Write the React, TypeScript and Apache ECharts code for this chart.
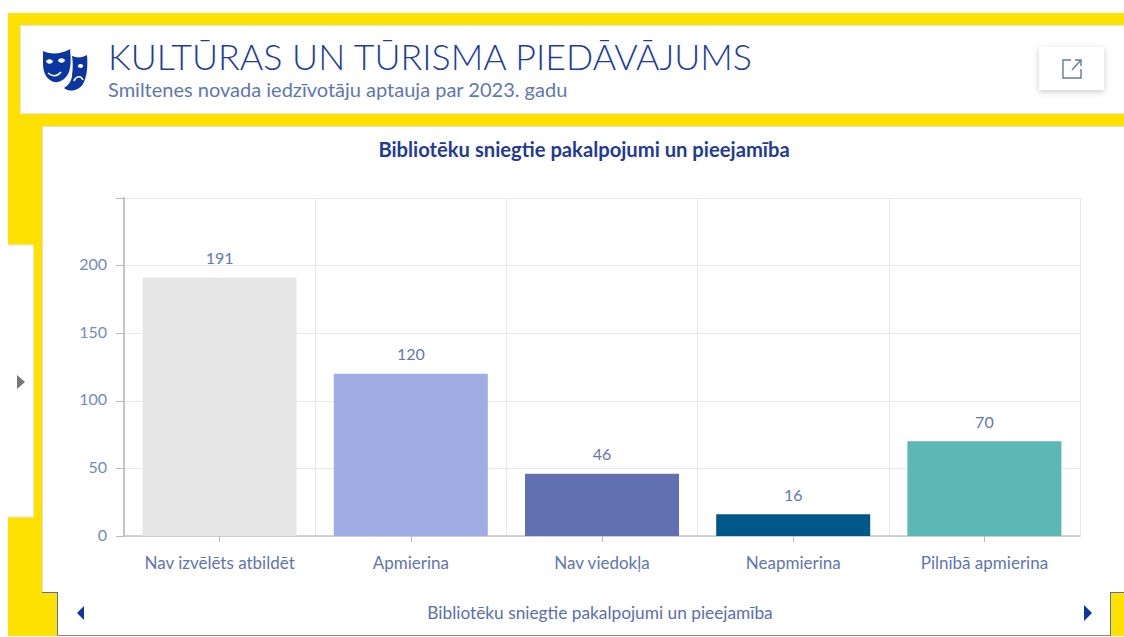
import React, { useEffect, useRef } from "react";
import * as echarts from "echarts";

const categories = ["Nav izvēlēts atbildēt", "Apmierina", "Nav viedokļa", "Neapmierina", "Pilnībā apmierina"];
const values = [191, 120, 46, 16, 70];
const barColors = ["#e6e6e6", "#9fade4", "#6170b0", "#00578a", "#5cb8b4"];
const heading = "KULTŪRAS UN TŪRISMA PIEDĀVĀJUMS";
const subheading = "Smiltenes novada iedzīvotāju aptauja par 2023. gadu";
const chartTitle = "Bibliotēku sniegtie pakalpojumi un pieejamība";
const footer = "Bibliotēku sniegtie pakalpojumi un pieejamība";

const FONT = "Lato";
const YELLOW = "#ffe100";
const BLUE = "#0b36a0";

echarts.graphic.registerShape("maskBig", echarts.graphic.extendPath(
  "M43 51 C50 55 62 54 70 49 C71 58 71 66 69 72 C66 79 60 83 54 82 C47 80 43 73 43 64 Z", {}));
echarts.graphic.registerShape("maskSmall", echarts.graphic.extendPath(
  "M72 56 C77 58 82 58 87 55 C88 66 87 77 83 84 C79 90 71 93 64 88 C69 85 72 80 72 75 C73 69 73 62 72 56 Z", {}));
echarts.graphic.registerShape("exportIcon", echarts.graphic.extendPath(
  "M1071 60 H1063 V78 H1081 V69 M1072 70 L1081 60 M1075 60 H1081 V66", {}));

const rect = (x: number, y: number, width: number, height: number, fill: string, extra: any = {}) => ({
  type: "rect", shape: { x, y, width, height }, style: { fill, ...extra }, silent: true,
});
const line = (x1: number, y1: number, x2: number, y2: number, stroke: string, lineWidth = 1) => ({
  type: "line", shape: { x1, y1, x2, y2 }, style: { stroke, lineWidth }, silent: true,
});
const tri = (points: number[][], fill: string) => ({
  type: "polygon", shape: { points }, style: { fill }, silent: true,
});
const label = (x: number, y: number, text: string, font: string, fill: string, align = "left") => ({
  type: "text", x, y, style: { text, font, fill, align, verticalAlign: "middle" }, silent: true,
});

const graphics: any[] = [
  rect(8, 13, 1116, 13, YELLOW),
  rect(8, 26, 12, 87, YELLOW),
  rect(8, 113, 1116, 13, YELLOW),
  rect(8, 126, 34, 119, YELLOW),
  rect(33, 245, 9, 272, YELLOW),
  rect(8, 517, 34, 119, YELLOW),
  rect(42, 592, 15, 44, YELLOW),
  rect(1110, 592, 14, 44, YELLOW),
  line(20.5, 26, 20.5, 113, "#e4e4e4"),
  line(20, 25.5, 1124, 25.5, "#e4e4e4"),
  line(20, 113.5, 1124, 113.5, "#e4e4e4"),
  line(42, 126.5, 1124, 126.5, "#dddddd"),
  line(42.5, 126, 42.5, 592, "#dddddd"),
  line(8, 245, 33, 245, "#e4e4e4"),
  line(33.5, 245, 33.5, 517, "#e4e4e4"),
  line(8, 517, 33, 517, "#e4e4e4"),
  line(42, 592.5, 57, 592.5, "#5a6db0"),
  line(57.5, 592, 57.5, 636, "#5a6db0"),
  line(57, 635.5, 1110, 635.5, "#8f8f70"),
  line(1110.5, 592, 1110.5, 636, "#5a6db0"),
  line(1110, 592.5, 1124, 592.5, "#5a6db0"),
  { type: "maskBig", style: { fill: BLUE }, silent: true },
  { type: "maskSmall", style: { fill: BLUE }, silent: true },
  { type: "ellipse", shape: { cx: 49.5, cy: 61.5, rx: 3.4, ry: 2.2 }, style: { fill: "#fff" }, silent: true },
  { type: "ellipse", shape: { cx: 61.5, cy: 60.5, rx: 3.4, ry: 2.2 }, style: { fill: "#fff" }, silent: true },
  { type: "ellipse", shape: { cx: 80.5, cy: 66, rx: 2.6, ry: 2 }, style: { fill: "#fff" }, silent: true },
  { type: "bezierCurve", shape: { x1: 48, y1: 73, cpx1: 53, cpy1: 77, x2: 61, y2: 72, cpx2: 57, cpy2: 77 }, style: { stroke: "#fff", lineWidth: 1.6, fill: "none" }, silent: true },
  { type: "bezierCurve", shape: { x1: 74, y1: 81, cpx1: 76, cpy1: 76, x2: 83, y2: 80, cpx2: 81, cpy2: 75 }, style: { stroke: "#fff", lineWidth: 1.6, fill: "none" }, silent: true },
  label(108, 56, heading, `300 35.8px ${FONT}`, "#1c3d9e"),
  label(108, 89, subheading, `400 20px ${FONT}`, "#5f76b2"),
  rect(1039, 47, 65, 43, "#ffffff", { shadowBlur: 6, shadowColor: "rgba(0,0,0,0.2)", shadowOffsetY: 2 }),
  { type: "exportIcon", style: { stroke: "#5f7f86", lineWidth: 1.4, fill: "none" }, silent: true },
  tri([[25, 382], [17, 375], [17, 389]], "#777777"),
  tri([[77, 613], [84, 606], [84, 620]], BLUE),
  tri([[1092, 613], [1084, 605], [1084, 621]], BLUE),
  label(600, 612, footer, `400 17.3px ${FONT}`, "#5a6eae", "center"),
];

export default function App() {
  const ref = useRef<HTMLDivElement>(null);
  useEffect(() => {
    document.body.style.margin = "0";
    const chart = echarts.init(ref.current!, null, { renderer: "svg" });
    chart.setOption({
      animation: false,
      backgroundColor: "#ffffff",
      title: {
        text: chartTitle,
        left: 579,
        top: 134,
        textAlign: "center",
        textStyle: { fontFamily: FONT, fontSize: 20.2, fontWeight: 700, color: "#1f3b96" },
      },
      graphic: { elements: graphics },
      grid: { left: 124, right: 44, top: 198, bottom: 101 },
      xAxis: {
        type: "category",
        data: categories,
        axisLine: { lineStyle: { color: "#c4c4c4", width: 1.5 } },
        axisTick: { show: true, alignWithLabel: true, interval: 0, length: 6, lineStyle: { color: "#b8b8b8", width: 1 } },
        splitLine: { show: true, interval: 0, lineStyle: { color: "#e8e8e8", width: 1 } },
        axisLabel: { interval: 0, color: "#6074b2", fontFamily: FONT, fontSize: 17, margin: 18 },
      },
      yAxis: {
        type: "value",
        min: 0,
        max: 250,
        interval: 50,
        axisLine: { show: true, lineStyle: { color: "#c4c4c4", width: 2 } },
        axisTick: { show: true, length: 8, lineStyle: { color: "#b8b8b8", width: 1 } },
        splitLine: { show: true, lineStyle: { color: "#e8e8e8", width: 1 } },
        axisLabel: {
          color: "#7289bd",
          fontFamily: FONT,
          fontSize: 16,
          margin: 17,
          verticalAlign: "bottom",
          lineHeight: 4,
          formatter: (v: number) => (v >= 250 ? "" : String(v)),
        },
      },
      series: [
        {
          type: "bar",
          barWidth: 154,
          data: values.map((value, i) => ({ value, itemStyle: { color: barColors[i] } })),
          label: {
            show: true,
            position: "top",
            distance: 12,
            color: "#6277b4",
            fontFamily: FONT,
            fontSize: 16,
          },
        },
      ],
    });
    return () => chart.dispose();
  }, []);
  return <div ref={ref} style={{ width: 1124, height: 637 }} />;
}
